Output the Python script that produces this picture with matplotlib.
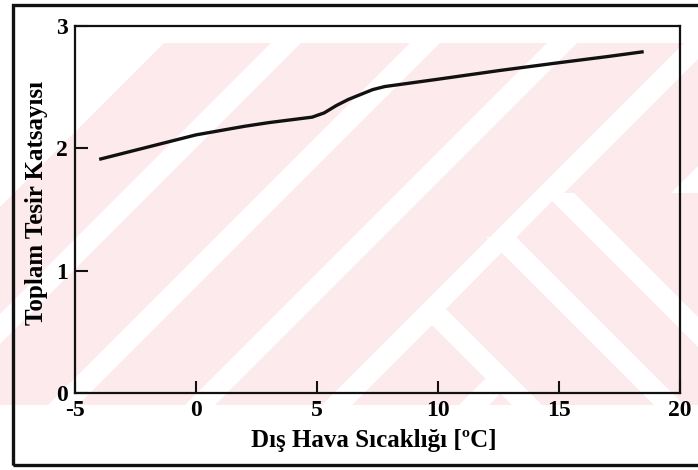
import matplotlib
matplotlib.use('Agg')
import matplotlib.pyplot as plt
from matplotlib.patches import Polygon, Rectangle

# Toplam tesir katsayisi vs dis hava sicakligi
temp = [-4, -2, 0, 2, 3, 4, 4.8, 5.3, 5.8, 6.3, 6.8, 7.3, 7.8, 10, 12.5, 15, 17, 18.5]
coef = [1.91, 2.01, 2.11, 2.18, 2.21, 2.235, 2.255, 2.29, 2.35, 2.40, 2.44, 2.48,
        2.505, 2.565, 2.635, 2.70, 2.75, 2.79]

x_ticks = [-5, 0, 5, 10, 15, 20]
y_ticks = [0, 1, 2, 3]
x_label = 'Dış Hava Sıcaklığı [ºC]'
y_label = 'Toplam Tesir Katsayısı'

W, H = 698, 470
PINK = '#fdeaed'
FONT = 'Liberation Serif'


def px(x, y):
    # pixel (from top-left) -> figure fraction
    return (x / W, 1 - y / H)


fig = plt.figure(figsize=(W / 100, H / 100), dpi=100)

# faint watermark behind the chart
top, bot = 43, 405

def shape(points, color, z):
    fig.add_artist(Polygon([px(a, b) for a, b in points], closed=True,
                           transform=fig.transFigure, facecolor=color,
                           edgecolor='none', zorder=z))

shape([(0, top), (W, top), (W, bot), (0, bot)], PINK, 0)
# "/" gaps along x + y = c
for c in [192, 329, 468, 605, 742, 879, 1016]:
    c1, c2 = c - 15, c + 15
    shape([(c1 - top, top), (c2 - top, top), (c2 - bot, bot), (c1 - bot, bot)],
          'white', 0.2)
shape([(0, top), (157, top), (0, 200)], 'white', 0.2)
# lower right arm of the logo: only "\" gaps there
shape([(445, 310), (560, 193), (W, 193), (W, bot), (540, bot)], PINK, 0.3)
for c, y0 in [(366, 193), (264, 237), (122, 310)]:
    c1, c2 = c - 15, c + 15
    shape([(c1 + y0, y0), (c2 + y0, y0), (c2 + bot, bot), (c1 + bot, bot)],
          'white', 0.4)

# outer frame of the scanned figure
fig.add_artist(Rectangle(px(13, 465), 2, (465 - 5) / H, transform=fig.transFigure,
                         facecolor='none', edgecolor='#111111', linewidth=2.4,
                         zorder=1))

ax = fig.add_axes([75 / W, 1 - 393 / H, (680 - 75) / W, (393 - 26) / H])
ax.patch.set_alpha(0)
ax.set_zorder(2)

ax.plot(temp, coef, color='#111111', linewidth=2.4, solid_capstyle='butt')

ax.set_xlim(-5, 20)
ax.set_ylim(0, 3)
ax.set_xticks(x_ticks)
ax.set_yticks(y_ticks)
ax.set_xticklabels([str(t) for t in x_ticks], fontfamily=FONT, fontweight='bold',
                   fontsize=17)
ax.set_yticklabels([str(t) for t in y_ticks], fontfamily=FONT, fontweight='bold',
                   fontsize=17)
ax.tick_params(direction='in', length=9, width=1.5, color='#111111',
               top=False, right=False)
ax.tick_params(axis='x', pad=5)
ax.tick_params(axis='y', pad=5)
for s in ax.spines.values():
    s.set_linewidth(1.6)
    s.set_color('#111111')

ax.set_xlabel(x_label, fontfamily=FONT, fontweight='bold', fontsize=18)
ax.set_ylabel(y_label, fontfamily=FONT, fontweight='bold', fontsize=18)
ax.xaxis.set_label_coords(0.494, -0.098)
ax.yaxis.set_label_coords(-0.045, 0.518)

fig.savefig('out.png', dpi=100)
